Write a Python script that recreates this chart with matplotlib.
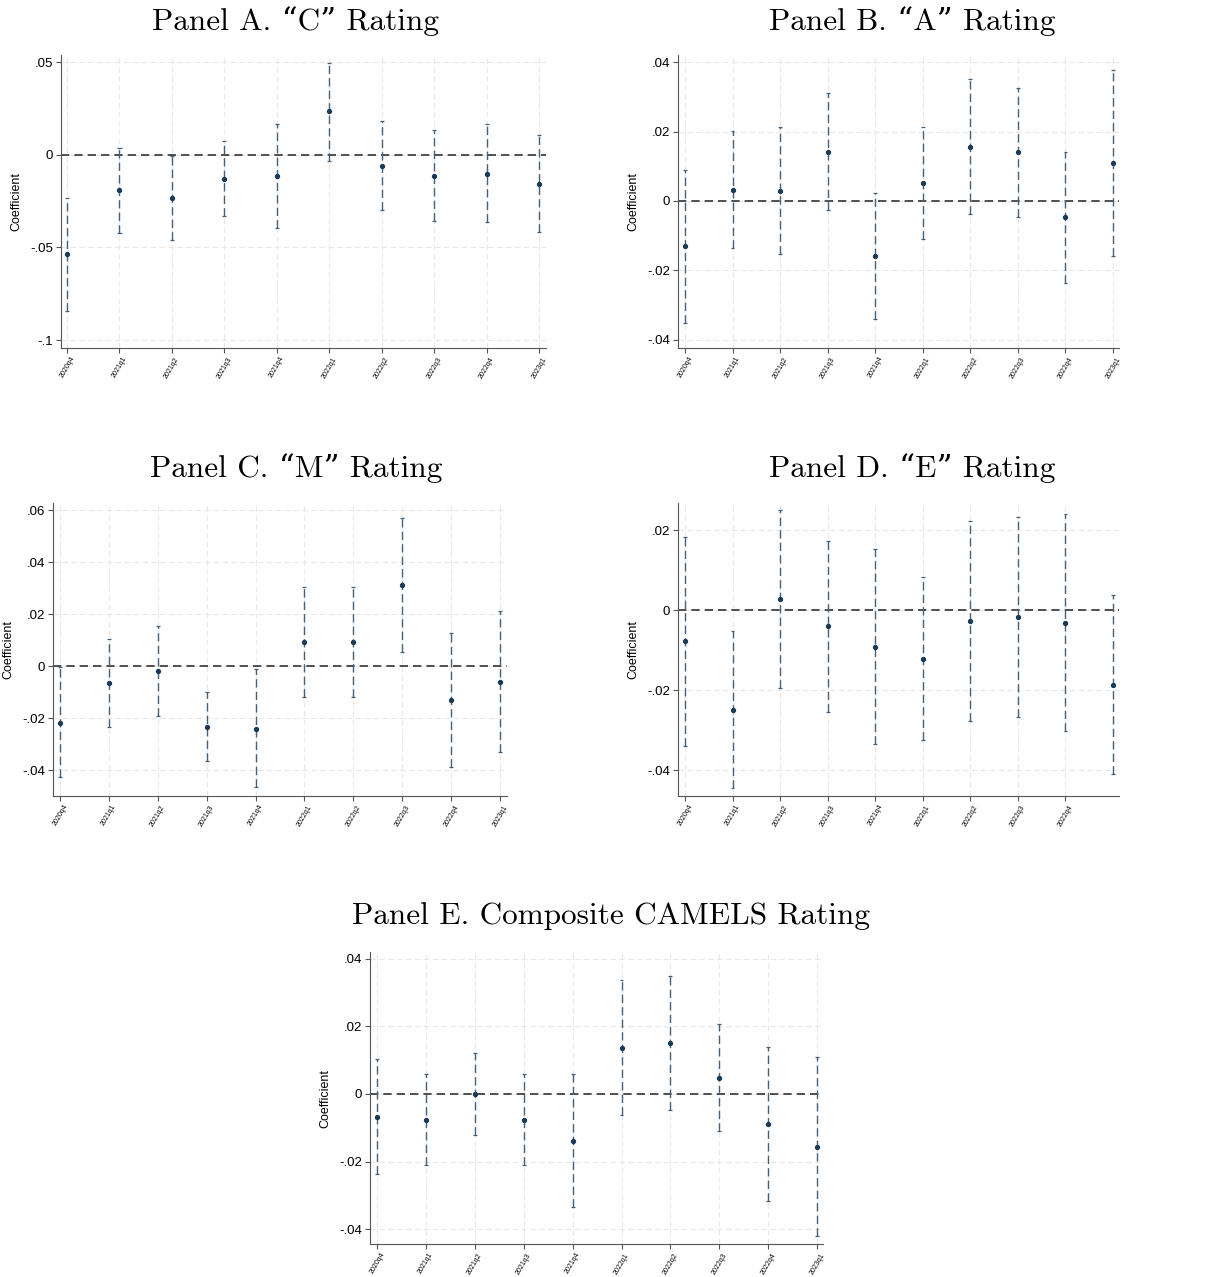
import matplotlib
matplotlib.use("Agg")
import matplotlib.pyplot as plt
import numpy as np

# Trimestres do eixo x
quarters = ["2020q4", "2021q1", "2021q2", "2021q3", "2021q4",
            "2022q1", "2022q2", "2022q3", "2022q4", "2023q1"]

# Panel A - "C"
c_coef = [-0.0538, -0.0192, -0.0234, -0.0130, -0.0114, 0.0234, -0.0060, -0.0114, -0.0103, -0.0158]
c_lo = [-0.0842, -0.0424, -0.0460, -0.0332, -0.0397, -0.0033, -0.0300, -0.0360, -0.0364, -0.0418]
c_hi = [-0.0234, 0.0038, -0.0007, 0.0072, 0.0165, 0.0495, 0.0180, 0.0136, 0.0163, 0.0109]

# Panel B - "A"
a_coef = [-0.0131, 0.0033, 0.0030, 0.0142, -0.0160, 0.0052, 0.0157, 0.0140, -0.0047, 0.0109]
a_lo = [-0.0352, -0.0136, -0.0154, -0.0026, -0.0341, -0.0109, -0.0038, -0.0045, -0.0236, -0.0159]
a_hi = [0.0088, 0.0202, 0.0213, 0.0310, 0.0024, 0.0213, 0.0352, 0.0326, 0.0141, 0.0378]

# Panel C - "M"
m_coef = [-0.0218, -0.0064, -0.0019, -0.0232, -0.0240, 0.0092, 0.0091, 0.0310, -0.0131, -0.0059]
m_lo = [-0.0427, -0.0235, -0.0192, -0.0364, -0.0465, -0.0118, -0.0120, 0.0053, -0.0388, -0.0328]
m_hi = [-0.0004, 0.0106, 0.0154, -0.0100, -0.0012, 0.0305, 0.0305, 0.0568, 0.0127, 0.0212]

# Panel D - "E"
e_coef = [-0.0078, -0.0248, 0.0028, -0.0039, -0.0091, -0.0121, -0.0028, -0.0016, -0.0031, -0.0186]
e_lo = [-0.0338, -0.0443, -0.0193, -0.0253, -0.0335, -0.0323, -0.0277, -0.0266, -0.0302, -0.0408]
e_hi = [0.0182, -0.0053, 0.0250, 0.0173, 0.0153, 0.0082, 0.0222, 0.0234, 0.0240, 0.0037]

# Panel E - Composite
comp_coef = [-0.0068, -0.0076, 0.0000, -0.0076, -0.0138, 0.0137, 0.0150, 0.0048, -0.0089, -0.0156]
comp_lo = [-0.0238, -0.0209, -0.0122, -0.0209, -0.0336, -0.0062, -0.0048, -0.0109, -0.0316, -0.0419]
comp_hi = [0.0102, 0.0058, 0.0121, 0.0058, 0.0058, 0.0337, 0.0350, 0.0206, 0.0139, 0.0110]

TITLE_FONT = ["cmr10", "DejaVu Serif"]
PONTO = "#1b3a57"
BARRA = "#41627a"


def fmt(v):
    # Formato estilo Stata: .05, -.1, 0
    if abs(v) < 1e-12:
        return "0"
    s = f"{v:.2f}".rstrip("0")
    return s.replace("0.", ".")


def painel(fig, rect, coef, lo, hi, yticks, ylim, xlim, ntick=10):
    ax = fig.add_axes(rect)
    x = np.arange(len(coef))
    coef = np.array(coef)
    lo = np.array(lo)
    hi = np.array(hi)
    ax.axhline(0, color="#333333", lw=1.2, ls=(0, (5, 3)), zorder=2)
    for xi, l, h in zip(x, lo, hi):
        ax.plot([xi, xi], [l, h], color=BARRA, lw=1.0, ls=(0, (6, 3)),
                solid_capstyle="butt", snap=True, zorder=3)
    ax.hlines(lo, x - 0.04, x + 0.04, colors=BARRA, lw=0.9, zorder=3)
    ax.hlines(hi, x - 0.04, x + 0.04, colors=BARRA, lw=0.9, zorder=3)
    ax.plot(x, coef, "o", color=PONTO, ms=2.8, zorder=4)
    ax.set_xlim(*xlim)
    ax.set_ylim(*ylim)
    ax.set_yticks(yticks)
    ax.set_yticklabels([fmt(v) for v in yticks], fontsize=9.5, family="Liberation Sans")
    ax.set_xticks(x[:ntick])
    ax.set_xticklabels(quarters[:ntick], rotation=60, fontsize=5, family="Liberation Sans")
    ax.grid(True, color="#e8e8e8", lw=0.8, ls=(0, (5, 3)))
    ax.set_axisbelow(True)
    ax.spines["top"].set_visible(False)
    ax.spines["right"].set_visible(False)
    ax.spines["left"].set_color("#555555")
    ax.spines["bottom"].set_color("#555555")
    ax.tick_params(length=3.5, width=0.8, color="#555555", pad=2)
    ax.set_ylabel("Coefficient", fontsize=9, family="Liberation Sans", labelpad=6)
    return ax


fig = plt.figure(figsize=(12.17, 12.77), dpi=100)
W, H = 1217, 1277


def rect(l, r, t, b):
    return [l / W, 1 - b / H, (r - l) / W, (b - t) / H]


painel(fig, rect(61, 546, 55, 348), c_coef, c_lo, c_hi,
       [-0.1, -0.05, 0, 0.05], (-0.1043, 0.0538), (-0.114, 9.13))
painel(fig, rect(678, 1119, 55, 348), a_coef, a_lo, a_hi,
       [-0.04, -0.02, 0, 0.02, 0.04], (-0.0424, 0.0421), (-0.147, 9.126))
painel(fig, rect(53, 507, 503, 796), m_coef, m_lo, m_hi,
       [-0.04, -0.02, 0, 0.02, 0.04, 0.06], (-0.0499, 0.0627), (-0.143, 9.143))
painel(fig, rect(678, 1119, 503, 796), e_coef, e_lo, e_hi,
       [-0.04, -0.02, 0, 0.02], (-0.0464, 0.0268), (-0.147, 9.126), ntick=9)
painel(fig, rect(370, 823, 952, 1244), comp_coef, comp_lo, comp_hi,
       [-0.04, -0.02, 0, 0.02, 0.04], (-0.0444, 0.042), (-0.143, 9.12))

# Titulos dos paineis
titulos = [
    (296, 21, "Panel A. \u201cC\u201d Rating"),
    (912, 21, "Panel B. \u201cA\u201d Rating"),
    (296, 468, "Panel C. \u201cM\u201d Rating"),
    (912, 468, "Panel D. \u201cE\u201d Rating"),
    (611, 916, "Panel E. Composite CAMELS Rating"),
]
for tx, ty, s in titulos:
    fig.text(tx / W, 1 - ty / H, s, ha="center", va="center", fontsize=22.5, family=TITLE_FONT)

fig.savefig("out.png", dpi=100)
